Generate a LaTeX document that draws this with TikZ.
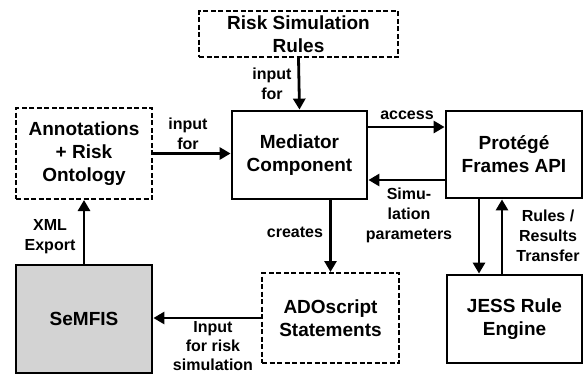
\documentclass[tikz,border=0pt]{standalone}
\usepackage{fontspec}
\setmainfont{Liberation Sans}
\usetikzlibrary{arrows.meta,calc}
\begin{document}
\begin{tikzpicture}[x=1pt,y=-1pt,
  box/.style={draw=black,line width=2.8pt,rectangle,align=center,inner sep=0pt,
    font=\fontsize{19}{23}\selectfont\bfseries},
  dbox/.style={box,line width=2pt,dash pattern=on 5pt off 2.5pt},
  arr/.style={line width=2.8pt,-{Triangle[length=11pt,width=12pt]}},
  lab/.style={align=center,inner sep=0pt,font=\fontsize{16}{20}\selectfont\bfseries}]
\useasboundingbox (0,0) rectangle (586,376);
\node[dbox,minimum width=199pt,minimum height=46pt] (rsr) at (298.5,34) {Risk Simulation\\Rules};
\node[dbox,minimum width=136pt,minimum height=91pt] (ann) at (84,153.5) {Annotations\\+ Risk\\Ontology};
\node[box,minimum width=135pt,minimum height=88pt] (med) at (299.5,155) {Mediator\\Component};
\node[box,minimum width=136pt,minimum height=87pt] (pro) at (514,154.5) {Protégé\\Frames API};
\node[box,fill={rgb,255:red,211;green,211;blue,211},minimum width=136pt,minimum height=108pt] (sem) at (84,319) {SeMFIS};
\node[dbox,minimum width=137pt,minimum height=90pt] (ado) at (330.5,318) {ADOscript\\Statements};
\node[box,minimum width=135pt,minimum height=88pt] (jess) at (514.5,319) {JESS Rule\\Engine};

\draw[arr] (rsr.south) -- (med.north);
\draw[arr] (ann.east) -- (ann.east -| med.west);
\draw[arr] ($(med.east)+(0,-28)$) -- ($(pro.west)+(0,-27.5)$);
\draw[arr] ($(pro.west)+(0,25.5)$) -- ($(med.east)+(0,25)$);
\draw[arr] (med.south -| ado.north) -- (ado.north);
\draw[arr] (ado.west) -- (ado.west -| sem.east);
\draw[arr] (sem.north) -- (ann.south);
\draw[arr] ($(pro.south)+(-35,0)$) -- ($(jess.north)+(-35.5,0)$);
\draw[arr] ($(jess.north)+(-12.5,0)$) -- ($(pro.south)+(-12,0)$);

\node[lab] (l1) at (272,84) {input\\for};
\node[lab] (l2) at (188,134) {input\\for};
\node[lab] (l3) at (407,115) {access};
\node[lab] (l4) at (409,215) {Simu-\\lation\\parameters};
\node[lab] (l5) at (295,232) {creates};
\node[lab] (l6) at (548,236) {Rules /\\Results\\Transfer};
\node[lab] (l7) at (50,236.5) {XML\\Export};
\node[lab,font=\fontsize{16}{19}\selectfont\bfseries] (l8) at (213,346.5) {Input\\for risk\\simulation};
\end{tikzpicture}
\end{document}
